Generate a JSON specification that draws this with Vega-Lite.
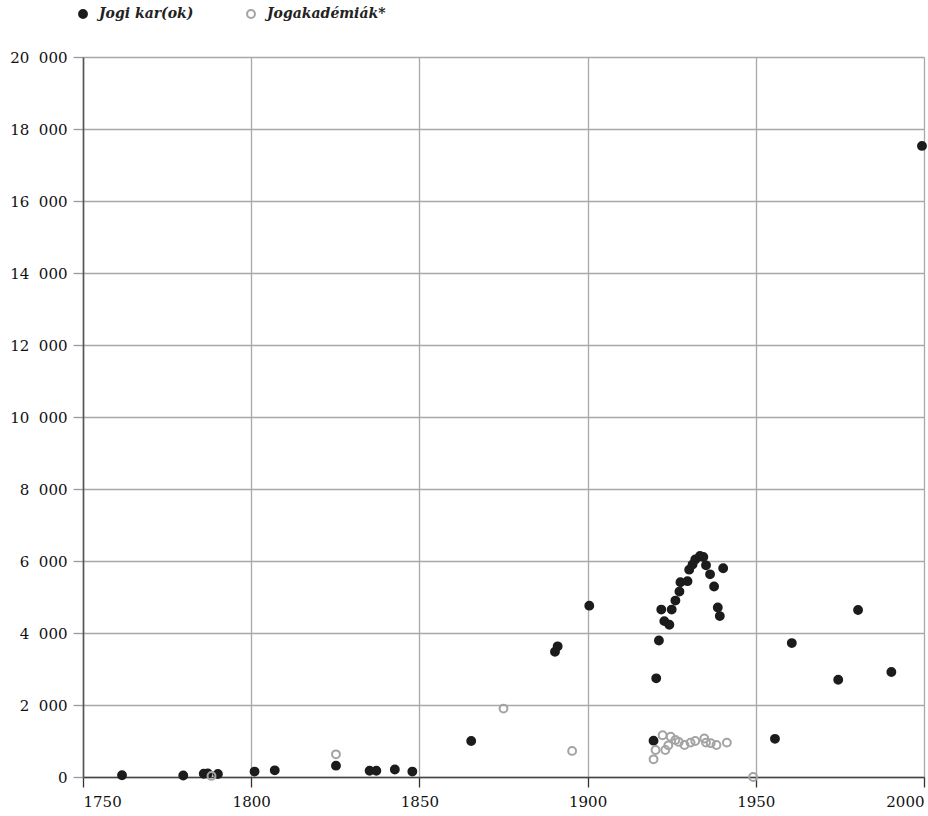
{
  "$schema": "https://vega.github.io/schema/vega-lite/v6.json",
  "width": 841,
  "height": 720,
  "autosize": {"type": "none"},
  "padding": {"left": 83, "top": 57, "right": 4, "bottom": 39},
  "config": {
    "view": {"stroke": null},
    "locale": {"number": {"decimal": ",", "thousands": "\u2007", "grouping": [3], "currency": ["", ""]}},
    "axis": {
      "labelFont": "DejaVu Serif",
      "labelFontSize": 15,
      "labelColor": "#111111",
      "gridColor": "#a8a8a8",
      "gridWidth": 1.3,
      "domainColor": "#555555",
      "domainWidth": 1.6,
      "tickSize": 10,
      "tickWidth": 1.3
    }
  },
  "data": {
    "values": [
      {"year": 1761.6, "value": 50, "series": "Jogi kar(ok)"},
      {"year": 1779.8, "value": 40, "series": "Jogi kar(ok)"},
      {"year": 1785.9, "value": 90, "series": "Jogi kar(ok)"},
      {"year": 1787.1, "value": 100, "series": "Jogi kar(ok)"},
      {"year": 1790.1, "value": 85, "series": "Jogi kar(ok)"},
      {"year": 1801, "value": 150, "series": "Jogi kar(ok)"},
      {"year": 1807, "value": 185, "series": "Jogi kar(ok)"},
      {"year": 1825.2, "value": 315, "series": "Jogi kar(ok)"},
      {"year": 1835.2, "value": 175, "series": "Jogi kar(ok)"},
      {"year": 1837.2, "value": 175, "series": "Jogi kar(ok)"},
      {"year": 1842.7, "value": 210, "series": "Jogi kar(ok)"},
      {"year": 1847.9, "value": 150, "series": "Jogi kar(ok)"},
      {"year": 1865.4, "value": 1000, "series": "Jogi kar(ok)"},
      {"year": 1890.3, "value": 3480, "series": "Jogi kar(ok)"},
      {"year": 1891.1, "value": 3630, "series": "Jogi kar(ok)"},
      {"year": 1900.5, "value": 4760, "series": "Jogi kar(ok)"},
      {"year": 1919.6, "value": 1010, "series": "Jogi kar(ok)"},
      {"year": 1920.4, "value": 2740, "series": "Jogi kar(ok)"},
      {"year": 1921.2, "value": 3790, "series": "Jogi kar(ok)"},
      {"year": 1921.9, "value": 4650, "series": "Jogi kar(ok)"},
      {"year": 1922.8, "value": 4330, "series": "Jogi kar(ok)"},
      {"year": 1924.3, "value": 4230, "series": "Jogi kar(ok)"},
      {"year": 1925, "value": 4650, "series": "Jogi kar(ok)"},
      {"year": 1926.1, "value": 4900, "series": "Jogi kar(ok)"},
      {"year": 1927.3, "value": 5150, "series": "Jogi kar(ok)"},
      {"year": 1927.6, "value": 5410, "series": "Jogi kar(ok)"},
      {"year": 1929.7, "value": 5440, "series": "Jogi kar(ok)"},
      {"year": 1930.2, "value": 5760, "series": "Jogi kar(ok)"},
      {"year": 1931.2, "value": 5900, "series": "Jogi kar(ok)"},
      {"year": 1932, "value": 6040, "series": "Jogi kar(ok)"},
      {"year": 1933.4, "value": 6140, "series": "Jogi kar(ok)"},
      {"year": 1934.4, "value": 6110, "series": "Jogi kar(ok)"},
      {"year": 1935.2, "value": 5880, "series": "Jogi kar(ok)"},
      {"year": 1936.4, "value": 5630, "series": "Jogi kar(ok)"},
      {"year": 1937.6, "value": 5290, "series": "Jogi kar(ok)"},
      {"year": 1938.7, "value": 4710, "series": "Jogi kar(ok)"},
      {"year": 1939.3, "value": 4470, "series": "Jogi kar(ok)"},
      {"year": 1940.3, "value": 5800, "series": "Jogi kar(ok)"},
      {"year": 1955.7, "value": 1060, "series": "Jogi kar(ok)"},
      {"year": 1960.7, "value": 3720, "series": "Jogi kar(ok)"},
      {"year": 1974.5, "value": 2700, "series": "Jogi kar(ok)"},
      {"year": 1980.4, "value": 4640, "series": "Jogi kar(ok)"},
      {"year": 1990.3, "value": 2915, "series": "Jogi kar(ok)"},
      {"year": 1999.4, "value": 17530, "series": "Jogi kar(ok)"},
      {"year": 1788.2, "value": 30, "series": "Jogakadémiák*"},
      {"year": 1825.2, "value": 630, "series": "Jogakadémiák*"},
      {"year": 1875, "value": 1900, "series": "Jogakadémiák*"},
      {"year": 1895.4, "value": 725, "series": "Jogakadémiák*"},
      {"year": 1919.6, "value": 490, "series": "Jogakadémiák*"},
      {"year": 1920.2, "value": 750, "series": "Jogakadémiák*"},
      {"year": 1922.3, "value": 1160, "series": "Jogakadémiák*"},
      {"year": 1923.1, "value": 750, "series": "Jogakadémiák*"},
      {"year": 1924, "value": 880, "series": "Jogakadémiák*"},
      {"year": 1924.7, "value": 1120, "series": "Jogakadémiák*"},
      {"year": 1926.1, "value": 1030, "series": "Jogakadémiák*"},
      {"year": 1927.1, "value": 975, "series": "Jogakadémiák*"},
      {"year": 1928.8, "value": 890, "series": "Jogakadémiák*"},
      {"year": 1930.6, "value": 955, "series": "Jogakadémiák*"},
      {"year": 1932, "value": 1000, "series": "Jogakadémiák*"},
      {"year": 1934.7, "value": 1070, "series": "Jogakadémiák*"},
      {"year": 1935.2, "value": 955, "series": "Jogakadémiák*"},
      {"year": 1936.6, "value": 940, "series": "Jogakadémiák*"},
      {"year": 1938.3, "value": 890, "series": "Jogakadémiák*"},
      {"year": 1941.4, "value": 955, "series": "Jogakadémiák*"},
      {"year": 1949.2, "value": 0, "series": "Jogakadémiák*"}
    ]
  },
  "mark": {"type": "point", "filled": false, "size": 62, "strokeWidth": 2, "opacity": 1},
  "encoding": {
    "x": {
      "field": "year",
      "type": "quantitative",
      "scale": {"domain": [1750, 2000], "nice": false, "zero": false},
      "axis": {"title": null, "values": [1750, 1800, 1850, 1900, 1950, 2000], "format": "d", "labelFlush": true, "labelPadding": 7, "tickColor": "#333333", "domainColor": "#444444"}
    },
    "y": {
      "field": "value",
      "type": "quantitative",
      "scale": {"domain": [0, 20000], "nice": false},
      "axis": {"title": null, "values": [0, 2000, 4000, 6000, 8000, 10000, 12000, 14000, 16000, 18000, 20000], "format": ",d", "labelPadding": 6, "tickColor": "#999999", "domainColor": "#555555"}
    },
    "stroke": {
      "field": "series",
      "type": "nominal",
      "sort": ["Jogi kar(ok)", "Jogakadémiák*"],
      "scale": {"domain": ["Jogi kar(ok)", "Jogakadémiák*"], "range": ["#1c1c1c", "#a3a3a3"]},
      "legend": {
        "title": null,
        "orient": "none",
        "legendX": -7,
        "legendY": -50,
        "direction": "horizontal",
        "symbolType": "circle",
        "symbolSize": 62,
        "symbolStrokeWidth": 2,
        "labelFont": "DejaVu Serif",
        "labelFontStyle": "italic",
        "labelFontWeight": "bold",
        "labelFontSize": 14,
        "labelColor": "#222222",
        "labelOffset": 9,
        "columnPadding": 49
      }
    },
    "fill": {
      "field": "series",
      "type": "nominal",
      "sort": ["Jogi kar(ok)", "Jogakadémiák*"],
      "scale": {"domain": ["Jogi kar(ok)", "Jogakadémiák*"], "range": ["#1c1c1c", "transparent"]},
      "legend": {
        "title": null,
        "orient": "none",
        "legendX": -7,
        "legendY": -50,
        "direction": "horizontal",
        "symbolType": "circle",
        "symbolSize": 62,
        "symbolStrokeWidth": 2,
        "labelFont": "DejaVu Serif",
        "labelFontStyle": "italic",
        "labelFontWeight": "bold",
        "labelFontSize": 14,
        "labelColor": "#222222",
        "labelOffset": 9,
        "columnPadding": 49
      }
    }
  }
}
